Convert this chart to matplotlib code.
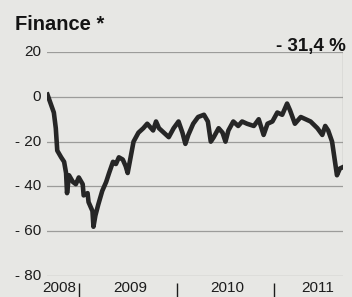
import numpy as np
import matplotlib
matplotlib.use("Agg")
import matplotlib.pyplot as plt
import matplotlib.transforms as mtransforms

plt.rcParams['font.family'] = ['Liberation Sans', 'DejaVu Sans']

# donnees (annee decimale, variation en %)
dates = [2008.68, 2008.745, 2008.765, 2008.78, 2008.82, 2008.85, 2008.87, 2008.88,
         2008.90, 2008.94, 2008.97, 2009.00, 2009.04, 2009.05, 2009.09, 2009.10,
         2009.14, 2009.15, 2009.17, 2009.20, 2009.24, 2009.28, 2009.31, 2009.35,
         2009.38, 2009.41, 2009.45, 2009.48, 2009.50, 2009.53, 2009.56, 2009.61,
         2009.66, 2009.70, 2009.76, 2009.79, 2009.82, 2009.87, 2009.92, 2009.97,
         2010.02, 2010.06, 2010.09, 2010.12, 2010.17, 2010.22, 2010.28, 2010.32,
         2010.35, 2010.38, 2010.43, 2010.47, 2010.50, 2010.53, 2010.58, 2010.63,
         2010.67, 2010.72, 2010.79, 2010.84, 2010.89, 2010.93, 2010.98, 2011.03,
         2011.08, 2011.13, 2011.16, 2011.21, 2011.27, 2011.32, 2011.37, 2011.44,
         2011.49, 2011.52, 2011.55, 2011.59, 2011.62, 2011.64, 2011.67, 2011.70]
valeurs = [1, -7, -14, -24, -27, -29, -34, -43,
           -35, -38, -39, -36, -39, -44, -43, -47,
           -51, -58, -53, -48, -42, -38, -34, -29,
           -30, -27, -28, -31, -34, -27, -20, -16,
           -14, -12, -15, -11, -14, -16, -18, -14,
           -11, -16, -21, -17, -12, -9, -8, -11,
           -20, -18, -14, -16, -20, -15, -11, -13,
           -11, -12, -13, -10, -17, -12, -11, -7,
           -8, -3, -6, -12, -9, -10, -11, -14,
           -17, -13, -15, -20, -29, -35, -32, -31.4]

annees = ['2008', '2009', '2010', '2011']
pos_annees = [2008.80, 2009.53, 2010.52, 2011.44]
separateurs = [2009, 2010, 2011]
yticks = [20, 0, -20, -40, -60, -80]
ylabels = ['20', '0', '- 20', '- 40', '- 60', '- 80']

fond = '#e7e7e4'
encre = '#1c1c1c'
fig = plt.figure(figsize=(3.52, 2.97), dpi=100, facecolor=fond)
ax = fig.add_axes([0.1335, 0.0707, 0.841, 0.754], facecolor=fond)

for y in yticks:
    ax.axhline(y, color='#9c9c9a', lw=0.9, zorder=1)

ax.plot(dates, valeurs, color='#262626', lw=3.3, solid_joinstyle='round', zorder=3)
# trait vertical a droite jusqu'a la derniere valeur
ax.plot([dates[-1], dates[-1]], [20, valeurs[-1]], color='#8a8a88', lw=0.9, zorder=2)

ax.set_xlim(dates[0] - 0.005, dates[-1] + 0.002)
ax.set_ylim(-80, 20)
for s in ax.spines.values():
    s.set_visible(False)
ax.set_xticks([])
ax.set_yticks([])

for y, lab in zip(yticks, ylabels):
    ax.text(-0.02, y, lab, transform=ax.get_yaxis_transform(), ha='right',
            va='center', fontsize=11, color=encre)

trans = mtransforms.blended_transform_factory(ax.transData, ax.transAxes)
for x, lab in zip(pos_annees, annees):
    ax.text(x, -0.055, lab, transform=trans, ha='center', va='center',
            fontsize=11, color=encre, clip_on=False)
ax.vlines(separateurs, -0.03, -0.095, transform=trans, color=encre,
          lw=1.0, clip_on=False)

fig.text(15 / 352, 1 - 24 / 297, 'Finance *', fontsize=14.5, fontweight='bold',
         ha='left', va='center', color='#141414')
fig.text(346 / 352, 1 - 46 / 297, '- 31,4 %', fontsize=13.5, fontweight='bold',
         ha='right', va='center', color='#141414')

fig.savefig('out.png', dpi=100, facecolor=fond)
